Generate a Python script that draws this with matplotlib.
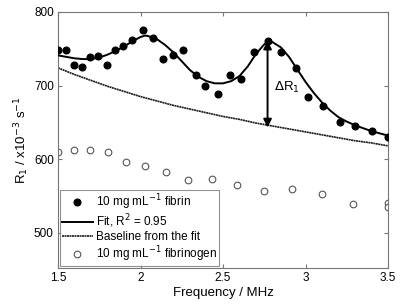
import numpy as np
import matplotlib
matplotlib.use("Agg")
import matplotlib.pyplot as plt

plt.rcParams['font.family'] = ['Liberation Sans', 'DejaVu Sans']

# fibrin data (filled circles)
fib_f = [1.50, 1.547, 1.597, 1.645, 1.694, 1.744, 1.795, 1.845, 1.894, 1.95,
         2.013, 2.074, 2.135, 2.195, 2.26, 2.335, 2.39, 2.47, 2.54, 2.61,
         2.685, 2.77, 2.85, 2.94, 3.015, 3.106, 3.21, 3.30, 3.40, 3.50]
fib_r1 = [748, 748, 728, 725, 739, 740, 728, 748, 754, 762,
          775, 764, 736, 742, 748, 715, 699, 688, 715, 709,
          745, 761, 746, 724, 685, 672, 651, 645, 638, 630]

# fit curve
fit_f = [1.50, 1.55, 1.60, 1.65, 1.70, 1.75, 1.80, 1.85, 1.90, 1.95,
         2.00, 2.03, 2.05, 2.10, 2.15, 2.20, 2.25, 2.30, 2.35, 2.40,
         2.45, 2.50, 2.55, 2.60, 2.65, 2.70, 2.75, 2.78, 2.80, 2.85,
         2.90, 2.95, 3.00, 3.05, 3.10, 3.15, 3.20, 3.25, 3.30, 3.35,
         3.40, 3.45, 3.50]
fit_r1 = [741, 739, 737, 736, 736, 738, 742, 747, 753, 760,
          766, 768, 767, 763, 755, 745, 733, 721, 712, 706,
          703, 703, 706, 713, 726, 743, 756, 760, 759, 752,
          739, 722, 705, 690, 677, 666, 657, 651, 646, 642,
          638, 635, 632]

# baseline from the fit
base_f = [1.50, 1.60, 1.70, 1.80, 1.90, 2.00, 2.10, 2.20, 2.30, 2.40,
          2.50, 2.60, 2.70, 2.80, 2.90, 3.00, 3.10, 3.20, 3.30, 3.40, 3.50]
base_r1 = [724, 715, 707, 699, 692, 685, 679, 673, 668, 663,
           658, 654, 649, 645, 641, 637, 633, 629, 625, 622, 618]

# fibrinogen data (open circles)
fbg_f = [1.50, 1.595, 1.692, 1.80, 1.911, 2.03, 2.157, 2.29, 2.435, 2.586,
         2.748, 2.92, 3.10, 3.29, 3.50, 3.50]
fbg_r1 = [610, 613, 613, 610, 596, 590, 583, 572, 573, 565,
          557, 559, 552, 539, 540, 535]

fig = plt.figure(figsize=(4.0, 3.07), dpi=100)
ax = fig.add_axes([0.145, 0.127, 0.825, 0.834])

ax.plot(fib_f, fib_r1, 'o', color='black', markersize=4.8, label='10 mg mL$^{-1}$ fibrin', zorder=4)
ax.plot(fit_f, fit_r1, '-', color='black', linewidth=1.4, label='Fit, R$^2$ = 0.95', zorder=3)
ax.plot(base_f, base_r1, linestyle=(0, (1.2, 0.3)), color='#1a1a1a', linewidth=1.2,
        label='Baseline from the fit', zorder=2)
ax.plot(fbg_f, fbg_r1, 'o', markerfacecolor='white', markeredgecolor='#555555',
        markeredgewidth=0.8, markersize=4.8, linestyle='none',
        label='10 mg mL$^{-1}$ fibrinogen', zorder=2)

ax.annotate('', xy=(2.77, 643), xytext=(2.77, 761),
            arrowprops=dict(arrowstyle='<|-|>', color='black', lw=1.4,
                            mutation_scale=12, shrinkA=0, shrinkB=0))
ax.text(2.81, 697, r'$\Delta$R$_1$', fontsize=9.5, va='center', ha='left')

ax.set_xlim(1.5, 3.5)
ax.set_ylim(452, 800)
ax.set_xticks([1.5, 2, 2.5, 3, 3.5])
ax.set_xticklabels(['1.5', '2', '2.5', '3', '3.5'])
ax.set_yticks([500, 600, 700, 800])
ax.tick_params(direction='in', top=True, right=True, labelsize=8.5, length=3,
               color='#777777', pad=3)
for s in ax.spines.values():
    s.set_color('#777777')
    s.set_linewidth(0.8)

ax.set_xlabel('Frequency / MHz', fontsize=9.5, labelpad=2)
ax.set_ylabel('R$_1$ / x10$^{-3}$ s$^{-1}$', fontsize=9.5, labelpad=2)

leg = ax.legend(loc='lower left', fontsize=8.5, frameon=True, fancybox=False,
                borderaxespad=0.2, handlelength=2.6, handletextpad=0.3,
                labelspacing=0.08, borderpad=0.15)
leg.get_frame().set_edgecolor('#777777')
leg.get_frame().set_linewidth(0.8)

fig.savefig('out.png', dpi=100)
